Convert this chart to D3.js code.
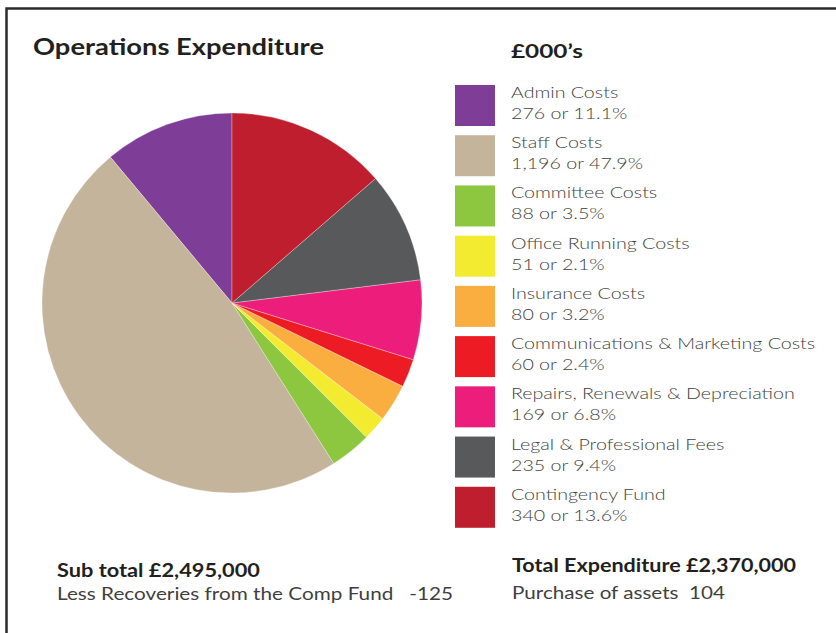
<!DOCTYPE html>
<html><head><meta charset="utf-8">
<script src="https://cdn.jsdelivr.net/npm/d3@7"></script>
<style>body{margin:0;background:#fff}svg{display:block}</style>
</head><body>
<svg id="c" width="836" height="633"></svg>
<script>
const categories = ["Admin Costs","Staff Costs","Committee Costs","Office Running Costs","Insurance Costs","Communications & Marketing Costs","Repairs, Renewals & Depreciation","Legal & Professional Fees","Contingency Fund"];
const values = [276,1196,88,51,80,60,169,235,340];
const valueLabels = ["276 or 11.1%","1,196 or 47.9%","88 or 3.5%","51 or 2.1%","80 or 3.2%","60 or 2.4%","169 or 6.8%","235 or 9.4%","340 or 13.6%"];
const colors = ["#7e3d96","#c4b49c","#8dc63f","#f3eb2f","#fbae40","#ed1c24","#ed1e7b","#58595b","#be1e2d"];
const title = "Operations Expenditure";
const unitLabel = "£000’s";
const footLeft = ["Sub total £2,495,000","Less Recoveries from the Comp Fund   -125"];
const footRight = ["Total Expenditure £2,370,000","Purchase of assets  104"];

const svg = d3.select("#c");
svg.append("path").attr("d","M6.5,633 V8.5 H836").attr("fill","none").attr("stroke","#2b2b2b").attr("stroke-width",2.5);

const font = "Lato, 'Open Sans', sans-serif";
svg.append("text").attr("x",33).attr("y",55).text(title)
  .attr("font-family",font).attr("font-weight",700).attr("font-size",22).attr("fill","#231f20")
  .attr("textLength",291).attr("lengthAdjust","spacingAndGlyphs");

const cx=232, cy=303, r=190;
const pie = d3.pie().sort(null).startAngle(0).endAngle(-2*Math.PI).value(d=>d);
const arc = d3.arc().innerRadius(0).outerRadius(r);
svg.append("g").attr("transform",`translate(${cx},${cy})`)
  .selectAll("path").data(pie(values)).join("path")
  .attr("d",arc).attr("fill",(d,i)=>colors[i])
  .attr("stroke","#ffffff").attr("stroke-opacity",0.5).attr("stroke-width",0.6);

svg.append("text").attr("x",511).attr("y",58).text(unitLabel)
  .attr("font-family",font).attr("font-weight",700).attr("font-size",18).attr("fill","#231f20")
  .attr("textLength",72).attr("lengthAdjust","spacingAndGlyphs");
const ly = d3.scaleBand().domain(categories).range([85,537]).paddingInner(0);
const lg = svg.append("g").selectAll("g").data(categories).join("g")
  .attr("transform",d=>`translate(455,${ly(d)})`);
lg.append("rect").attr("width",40).attr("height",41).attr("fill",(d,i)=>colors[i]);
const stretch = 1.19;
function widen(sel){ sel.each(function(){ const w=this.getComputedTextLength(); d3.select(this).attr("textLength",w*stretch).attr("lengthAdjust","spacingAndGlyphs"); }); }
lg.append("text").attr("x",56).attr("y",13).text(d=>d)
  .attr("font-family",font).attr("font-weight",300).attr("font-size",16.5).attr("fill","#3f3f41").call(widen);
lg.append("text").attr("x",56).attr("y",34).text((d,i)=>valueLabels[i])
  .attr("font-family",font).attr("font-weight",300).attr("font-size",16.5).attr("fill","#3f3f41").call(widen);

svg.append("text").attr("x",57).attr("y",577).text(footLeft[0])
  .attr("font-family",font).attr("font-weight",700).attr("font-size",18).attr("fill","#231f20")
  .attr("textLength",203).attr("lengthAdjust","spacingAndGlyphs");
svg.append("text").attr("x",57).attr("y",600).attr("xml:space","preserve").text(footLeft[1])
  .attr("font-family",font).attr("font-weight",400).attr("font-size",18).attr("fill","#3f3f41")
  .attr("textLength",396).attr("lengthAdjust","spacingAndGlyphs");
svg.append("text").attr("x",512).attr("y",572).text(footRight[0])
  .attr("font-family",font).attr("font-weight",700).attr("font-size",18).attr("fill","#231f20")
  .attr("textLength",284).attr("lengthAdjust","spacingAndGlyphs");
svg.append("text").attr("x",512).attr("y",599).attr("xml:space","preserve").text(footRight[1])
  .attr("font-family",font).attr("font-weight",400).attr("font-size",18).attr("fill","#3f3f41")
  .attr("textLength",213).attr("lengthAdjust","spacingAndGlyphs");
</script>
</body></html>
